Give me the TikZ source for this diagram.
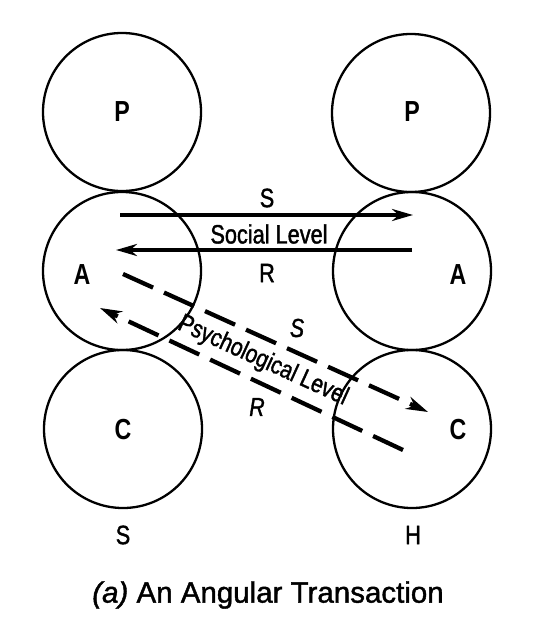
\documentclass[tikz,border=0pt]{standalone}
\usepackage{fontspec}
\setmainfont{Liberation Sans}
\newfontfamily\condfont[FakeStretch=0.82,FakeBold=1.4]{Liberation Sans}
\newfontfamily\egofont[FakeStretch=0.8]{Liberation Sans}
\newfontfamily\capfont[FakeBold=1.4]{Liberation Sans}
\usetikzlibrary{arrows.meta}
\begin{document}
\begin{tikzpicture}[x=1pt,y=-1pt,
  ring/.style={draw, circle, line width=2.3pt, minimum size=158pt, inner sep=0pt},
  ego/.style={font=\egofont\bfseries\fontsize{29}{31}\selectfont},
  lbl/.style={font=\condfont\fontsize{26.5}{30}\selectfont},
  ilbl/.style={font=\condfont\itshape\fontsize{26}{30}\selectfont},
  social/.style={line width=4pt, -{Stealth[length=21pt,width=12pt]}},
  psych/.style={line width=4.3pt, dash pattern=on 33pt off 12pt, -{Stealth[length=22pt,width=13pt]}},
]
\useasboundingbox (0,0) rectangle (538,642);
% circles
\node[ring] (lP) at (122,112) {};
\node[ring] (lA) at (122,271) {};
\node[ring] (lC) at (123,429) {};
\node[ring] (rP) at (411,113) {};
\node[ring] (rA) at (412,271) {};
\node[ring] (rC) at (412,429) {};
% ego-state letters
\node[ego] (tlP) at (122,112) {P};
\node[ego] (trP) at (412,112) {P};
\node[ego] (tlA) at (82,275) {A};
\node[ego] (trA) at (458,275) {A};
\node[ego] (tlC) at (123,430) {C};
\node[ego] (trC) at (458,430) {C};
% endpoints
\coordinate (s1) at (120,215);
\coordinate (s2) at (413,215);
\coordinate (r1) at (412,250);
\coordinate (r2) at (116,250);
\coordinate (ps1) at (123,274);
\coordinate (ps2) at (428,412);
\coordinate (pr1) at (403,450);
\coordinate (pr2) at (100,308);
% social level
\draw[social] (s1) -- (s2);
\draw[social] (r1) -- (r2);
\node[lbl] (sS) at (267,198) {S};
\node[lbl] (sL) at (269,234) {Social Level};
\node[lbl] (sR) at (267,273) {R};
% psychological level
\draw[psych] (ps1) -- (ps2);
\draw[psych] (pr1) -- (pr2);
\node[ilbl] (pS) at (297,328) {S};
\node[font=\condfont\fontsize{25.5}{30}\selectfont, rotate=-24.5] (pL) at (263,361) {Psychological Level};
\node[ilbl] (pR) at (257,407) {R};
% bottom labels
\node[lbl] (bS) at (123,535) {S};
\node[lbl] (bH) at (413,535) {H};
\node[font=\capfont\fontsize{29.5}{32}\selectfont] (cap) at (268,595) {\textit{(a)} An Angular Transaction};
\end{tikzpicture}
\end{document}
